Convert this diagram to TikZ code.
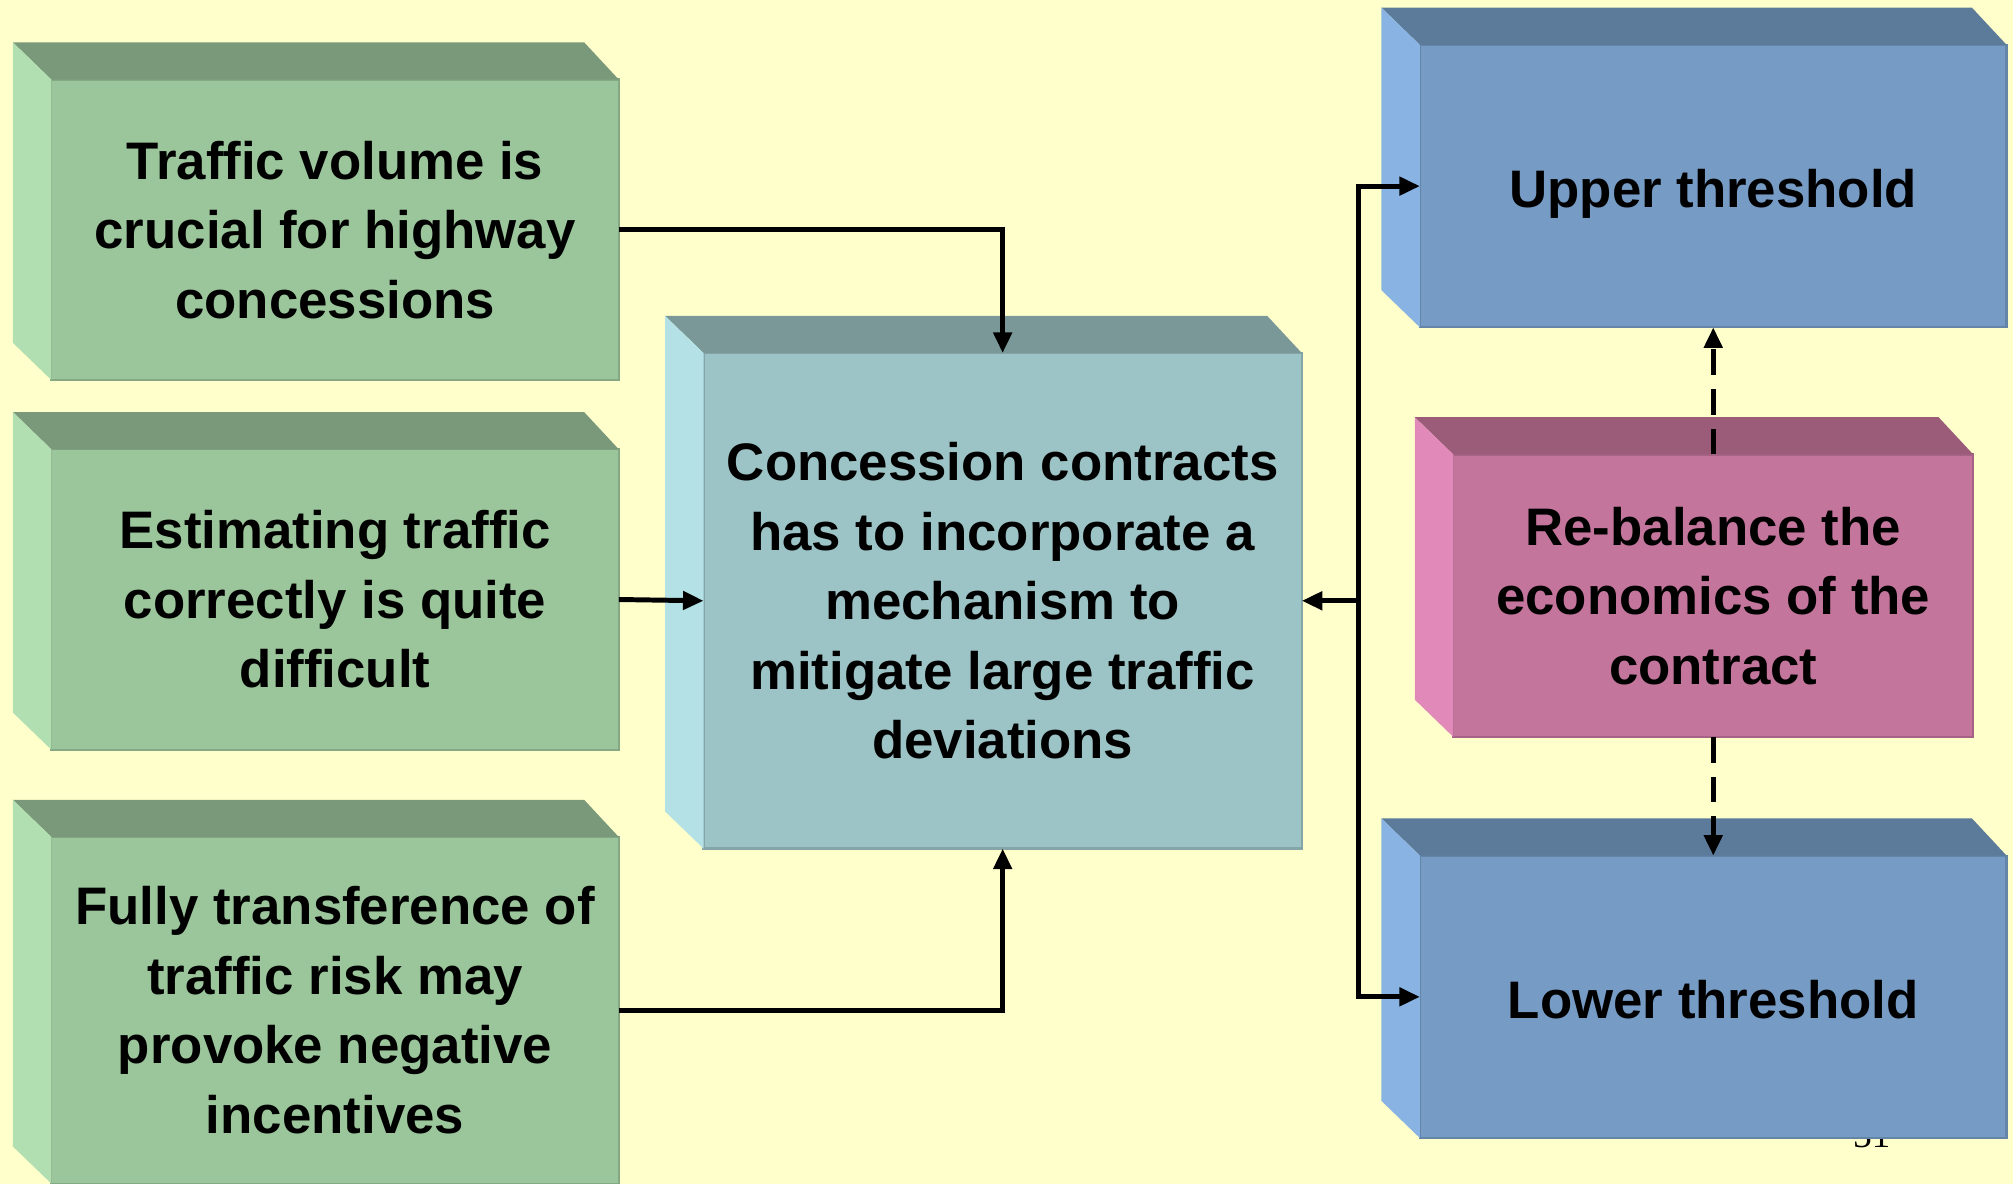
\documentclass[tikz,border=0pt]{standalone}
\usepackage{fontspec}
\setmainfont{Liberation Sans}
\newfontfamily\pagefont{Liberation Serif}
\usepackage{tikz}
\usetikzlibrary{arrows.meta,positioning,calc}

\definecolor{slidebg}{HTML}{FFFFCC}
\definecolor{grnfront}{HTML}{9BC59B}
\definecolor{grntop}{HTML}{7A987A}
\definecolor{grnside}{HTML}{B1DFB1}
\definecolor{tealfront}{HTML}{9CC3C5}
\definecolor{tealtop}{HTML}{7A9898}
\definecolor{tealside}{HTML}{B3E1E5}
\definecolor{bluefront}{HTML}{769CC6}
\definecolor{bluetop}{HTML}{5C7A99}
\definecolor{blueside}{HTML}{88B3E2}
\definecolor{pinkfront}{HTML}{C4759C}
\definecolor{pinktop}{HTML}{9A5C78}
\definecolor{pinkside}{HTML}{E189B8}

\begin{document}
\begin{tikzpicture}[
  boxtext/.style={font=\fontsize{11.7}{15.4}\selectfont\bfseries, align=center, outer sep=0pt, inner sep=0pt, line width=0.5pt},
  greenbox/.style={boxtext, fill=grnfront, draw=grnfront!85!black, minimum width=4.42cm},
  tealbox/.style={boxtext, fill=tealfront, draw=tealfront!85!black, minimum width=4.66cm, minimum height=3.86cm},
  bluebox/.style={boxtext, fill=bluefront, draw=bluefront!85!black, minimum width=4.57cm, minimum height=2.2cm, text height=4.2mm, text depth=0.9mm},
  pinkbox/.style={boxtext, fill=pinkfront, draw=pinkfront!85!black, minimum width=4.05cm, minimum height=2.2cm},
  arr/.style={-{Triangle[length=1.6mm, width=1.4mm]}, line width=1.1pt, black}
]
  \fill[slidebg] (0,0) rectangle (15.68,9.22);
  \useasboundingbox (0,0) rectangle (15.68,9.22);

  % page number, half hidden behind the lower box
  \node[font=\pagefont\fontsize{8.2}{10}\selectfont, anchor=base] (pageno) at (14.58,0.28) {31};

  % left column
  \node[greenbox, minimum height=2.34cm] (traffic) at (2.61,7.43) {Traffic volume is\\crucial for highway\\concessions};
  \fill[grntop] (traffic.north west) -- ++(-0.3,0.29) -- ([shift={(-0.27,0.29)}]traffic.north east) -- (traffic.north east) -- cycle;
  \fill[grnside] (traffic.north west) -- ++(-0.3,0.29) -- ([shift={(-0.3,0.29)}]traffic.south west) -- (traffic.south west) -- cycle;

  \node[greenbox, minimum height=2.34cm] (estimate) at (2.61,4.55) {Estimating traffic\\correctly is quite\\difficult};
  \fill[grntop] (estimate.north west) -- ++(-0.3,0.29) -- ([shift={(-0.27,0.29)}]estimate.north east) -- (estimate.north east) -- cycle;
  \fill[grnside] (estimate.north west) -- ++(-0.3,0.29) -- ([shift={(-0.3,0.29)}]estimate.south west) -- (estimate.south west) -- cycle;

  \node[greenbox, minimum height=2.7cm] (transfer) at (2.61,1.35) {Fully transference of\\traffic risk may\\provoke negative\\incentives};
  \fill[grntop] (transfer.north west) -- ++(-0.3,0.29) -- ([shift={(-0.27,0.29)}]transfer.north east) -- (transfer.north east) -- cycle;
  \fill[grnside] (transfer.north west) -- ++(-0.3,0.29) -- ([shift={(-0.3,0.29)}]transfer.south west) -- (transfer.south west) -- cycle;

  % centre
  \node[tealbox] (contract) at (7.81,4.54) {Concession contracts\\has to incorporate a\\mechanism to\\mitigate large traffic\\deviations};
  \fill[tealtop] (contract.north west) -- ++(-0.3,0.29) -- ([shift={(-0.27,0.29)}]contract.north east) -- (contract.north east) -- cycle;
  \fill[tealside] (contract.north west) -- ++(-0.3,0.29) -- ([shift={(-0.3,0.29)}]contract.south west) -- (contract.south west) -- cycle;

  % right column
  \node[bluebox] (upper) at (13.345,7.77) {Upper threshold};
  \fill[bluetop] (upper.north west) -- ++(-0.3,0.29) -- ([shift={(-0.27,0.29)}]upper.north east) -- (upper.north east) -- cycle;
  \fill[blueside] (upper.north west) -- ++(-0.3,0.29) -- ([shift={(-0.3,0.29)}]upper.south west) -- (upper.south west) -- cycle;

  \node[pinkbox] (rebalance) at (13.345,4.58) {Re-balance the\\economics of the\\contract};
  \fill[pinktop] (rebalance.north west) -- ++(-0.3,0.29) -- ([shift={(-0.27,0.29)}]rebalance.north east) -- (rebalance.north east) -- cycle;
  \fill[pinkside] (rebalance.north west) -- ++(-0.3,0.29) -- ([shift={(-0.3,0.29)}]rebalance.south west) -- (rebalance.south west) -- cycle;

  \node[bluebox] (lower) at (13.345,1.455) {Lower threshold};
  \fill[bluetop] (lower.north west) -- ++(-0.3,0.29) -- ([shift={(-0.27,0.29)}]lower.north east) -- (lower.north east) -- cycle;
  \fill[blueside] (lower.north west) -- ++(-0.3,0.29) -- ([shift={(-0.3,0.29)}]lower.south west) -- (lower.south west) -- cycle;

  % connectors
  \draw[arr] (traffic.east) -| (contract.north);
  \draw[arr] (estimate.east) -- (contract.west);
  \draw[arr] (transfer.east) -| (contract.south);

  \coordinate[right=0.44cm of contract.east] (split);
  \draw[arr] (split) -- (contract.east);
  \draw[arr] (split) |- (upper.west);
  \draw[arr] (split) |- (lower.west);

  \draw[arr, dash pattern=on 0.2cm off 0.11cm] (rebalance.north) -- (upper.south);
  \draw[arr, dash pattern=on 0.2cm off 0.11cm] (rebalance.south) -- (lower.north);
\end{tikzpicture}
\end{document}
